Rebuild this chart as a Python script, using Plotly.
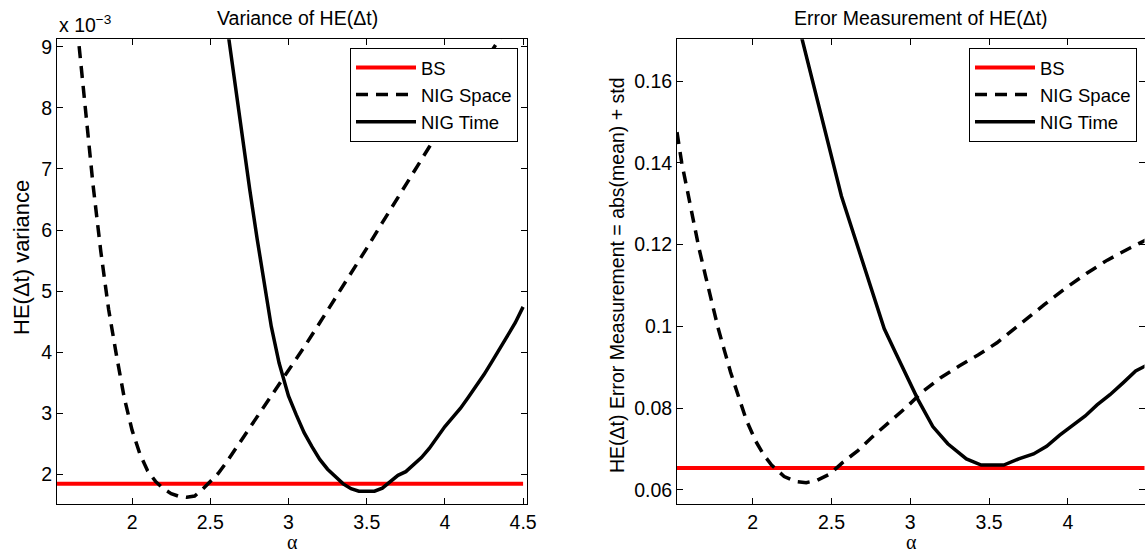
import plotly.graph_objects as go

# ---------------- data ----------------
# Left panel: variance of HE(dt), in units of 1e-3
BS_ALPHA = [1.52, 4.50]
VAR_BS = [1.84, 1.84]

VAR_SPACE_ALPHA = [1.52, 1.58, 1.62, 1.66, 1.70, 1.75, 1.80, 1.85, 1.90, 1.95, 2.00, 2.05,
                   2.10, 2.15, 2.20, 2.25, 2.30, 2.35, 2.40, 2.45, 2.50, 2.55, 2.60, 2.70,
                   2.80, 2.90, 3.00, 3.10, 3.20, 3.30, 3.40, 3.50, 3.60, 3.70, 3.80, 3.90,
                   4.00, 4.10, 4.20, 4.30, 4.40, 4.52]
VAR_SPACE = [12.6, 11.0, 10.05, 9.05, 8.0, 6.75, 5.65, 4.7, 3.95, 3.25, 2.72, 2.33,
             2.05, 1.88, 1.76, 1.68, 1.635, 1.62, 1.64, 1.75, 1.88, 2.01, 2.18, 2.56,
             2.92, 3.30, 3.68, 4.08, 4.48, 4.88, 5.28, 5.70, 6.12, 6.54, 6.95, 7.36,
             7.76, 8.15, 8.54, 8.93, 9.32, 9.80]

VAR_TIME_ALPHA = [2.55, 2.617, 2.70, 2.753, 2.80, 2.85, 2.89, 2.94, 3.00, 3.05, 3.10, 3.15,
                  3.20, 3.25, 3.30, 3.35, 3.40, 3.45, 3.50, 3.55, 3.60, 3.65, 3.70, 3.75,
                  3.80, 3.85, 3.90, 3.95, 4.00, 4.05, 4.10, 4.15, 4.20, 4.25, 4.30, 4.35,
                  4.40, 4.45, 4.50]
VAR_TIME = [10.4, 9.13, 7.6, 6.65, 5.85, 5.05, 4.42, 3.82, 3.28, 2.97, 2.68, 2.45,
            2.24, 2.08, 1.95, 1.84, 1.76, 1.72, 1.72, 1.72, 1.77, 1.87, 1.98, 2.04,
            2.15, 2.27, 2.42, 2.60, 2.78, 2.93, 3.08, 3.26, 3.44, 3.63, 3.84, 4.06,
            4.26, 4.48, 4.74]

# Right panel: error measurement = abs(mean) + std
ERR_BS = [0.0654, 0.0654]

ERR_SPACE_ALPHA = [1.52, 1.55, 1.58, 1.62, 1.66, 1.70, 1.74, 1.78, 1.82, 1.86, 1.91, 1.96,
                   2.02, 2.07, 2.12, 2.20, 2.27, 2.34, 2.41, 2.49, 2.57, 2.67, 2.76, 2.86,
                   2.98, 3.08, 3.19, 3.31, 3.43, 3.55, 3.65, 3.75, 3.85, 3.98, 4.12, 4.25,
                   4.40, 4.50]
ERR_SPACE = [0.1475, 0.140, 0.1343, 0.1265, 0.119, 0.1125, 0.106, 0.0997, 0.0942, 0.0888,
             0.0829, 0.0771, 0.0719, 0.0686, 0.0661, 0.0633, 0.0621, 0.0618, 0.0624, 0.0639,
             0.0667, 0.0697, 0.0730, 0.0763, 0.0804, 0.0841, 0.0874, 0.0903, 0.0930, 0.0960,
             0.0990, 0.1022, 0.1053, 0.1092, 0.1130, 0.1162, 0.1193, 0.1212]

ERR_TIME_ALPHA = [2.25, 2.315, 2.384, 2.45, 2.563, 2.65, 2.75, 2.835, 2.906, 2.977, 3.049,
                  3.143, 3.238, 3.356, 3.45, 3.593, 3.688, 3.782, 3.865, 3.948, 4.03, 4.11,
                  4.185, 4.267, 4.35, 4.43, 4.50]
ERR_TIME = [0.180, 0.170, 0.160, 0.150, 0.1319, 0.1215, 0.1096, 0.0994, 0.0936, 0.0879,
            0.0821, 0.0755, 0.0713, 0.0676, 0.0661, 0.0661, 0.0676, 0.0688, 0.0707, 0.0734,
            0.0759, 0.0781, 0.0808, 0.0833, 0.0862, 0.0891, 0.0905]

X_TICKS = [2, 2.5, 3, 3.5, 4, 4.5]
X_TICK_TEXT = ["2", "2.5", "3", "3.5", "4", "4.5"]
Y1_TICKS = [2, 3, 4, 5, 6, 7, 8, 9]
Y2_TICKS = [0.06, 0.08, 0.10, 0.12, 0.14, 0.16]
Y2_TICK_TEXT = ["0.06", "0.08", "0.1", "0.12", "0.14", "0.16"]

# ---------------- layout helpers ----------------
W, H = 1145, 556
FONT = "Liberation Sans, Arial, Helvetica, sans-serif"
SERIF = "Liberation Serif, Times New Roman, serif"
FS = 19.5


def fx(px):
    return px / W


def fy(py):
    return 1 - py / H


TOP, BOTTOM = 39.3, 504.3
L1, R1 = 57, 527
L2, R2 = 677, 1144.5

RED = "#ff0000"
BLACK = "#000000"

fig = go.Figure()


def add_panel(bs_x, bs_y, sx, sy, tx, ty, xa, ya, leg):
    fig.add_trace(go.Scatter(x=bs_x, y=bs_y, mode="lines", name="BS",
                             line=dict(color=RED, width=4), xaxis=xa, yaxis=ya,
                             legend=leg))
    fig.add_trace(go.Scatter(x=sx, y=sy, mode="lines", name="NIG Space",
                             line=dict(color=BLACK, width=3.5, dash="12px,8px"),
                             xaxis=xa, yaxis=ya, legend=leg))
    fig.add_trace(go.Scatter(x=tx, y=ty, mode="lines", name="NIG Time",
                             line=dict(color=BLACK, width=3.5), xaxis=xa, yaxis=ya,
                             legend=leg))


add_panel(BS_ALPHA, VAR_BS, VAR_SPACE_ALPHA, VAR_SPACE, VAR_TIME_ALPHA, VAR_TIME,
          "x", "y", "legend")
add_panel(BS_ALPHA, ERR_BS, ERR_SPACE_ALPHA, ERR_SPACE, ERR_TIME_ALPHA, ERR_TIME,
          "x2", "y2", "legend2")

axis_common = dict(showline=True, linecolor=BLACK, linewidth=1, mirror="ticks",
                   ticks="inside", ticklen=6, tickcolor=BLACK, tickwidth=1,
                   showgrid=False, zeroline=False, automargin=False,
                   tickfont=dict(family=FONT, size=FS, color=BLACK))

legend_common = dict(bgcolor="white", bordercolor=BLACK, borderwidth=1,
                     font=dict(family=FONT, size=18.5, color=BLACK),
                     xanchor="right", yanchor="top", itemwidth=60,
                     tracegroupgap=0, traceorder="normal")

fig.update_layout(
    width=W, height=H,
    margin=dict(l=0, r=0, t=0, b=0),
    paper_bgcolor="white", plot_bgcolor="white",
    font=dict(family=FONT, size=FS, color=BLACK),
    xaxis=dict(domain=[fx(L1), fx(R1)], range=[1.52, 4.525], anchor="y",
               tickvals=X_TICKS, ticktext=X_TICK_TEXT, **axis_common),
    yaxis=dict(domain=[fy(BOTTOM), fy(TOP)], range=[1.505, 9.125], anchor="x",
               tickvals=Y1_TICKS, **axis_common),
    xaxis2=dict(domain=[fx(L2), fx(R2)], range=[1.52, 4.486], anchor="y2",
                tickvals=X_TICKS, ticktext=X_TICK_TEXT, **axis_common),
    yaxis2=dict(domain=[fy(BOTTOM), fy(TOP)], range=[0.0565, 0.1702], anchor="x2",
                tickvals=Y2_TICKS, ticktext=Y2_TICK_TEXT, **axis_common),
    legend=dict(x=fx(518), y=fy(48), **legend_common),
    legend2=dict(x=fx(1137), y=fy(48), **legend_common),
    showlegend=True,
)

annotations = [
    dict(text="Variance of HE(Δt)", x=fx(297), y=fy(18)),
    dict(text="Error Measurement of HE(Δt)", x=fx(921), y=fy(18)),
    dict(text="α", x=fx((L1 + R1) / 2), y=fy(542), family=SERIF, size=20),
    dict(text="α", x=fx(911), y=fy(542), family=SERIF, size=20),
    dict(text="HE(Δt) variance", x=fx(21), y=fy(258), textangle=-90, size=22),
    dict(text="HE(Δt) Error Measurement = abs(mean) + std", x=fx(617), y=fy(275),
         textangle=-90),
    dict(text="x 10<sup>−3</sup>", x=fx(57), y=fy(24), xanchor="left"),
]
for a in annotations:
    a.setdefault("xanchor", "center")
    fam = a.pop("family", FONT)
    size = a.pop("size", FS)
    fig.add_annotation(xref="paper", yref="paper", showarrow=False, yanchor="middle",
                       font=dict(family=fam, size=size, color=BLACK), **a)

fig.write_html("out.html")
